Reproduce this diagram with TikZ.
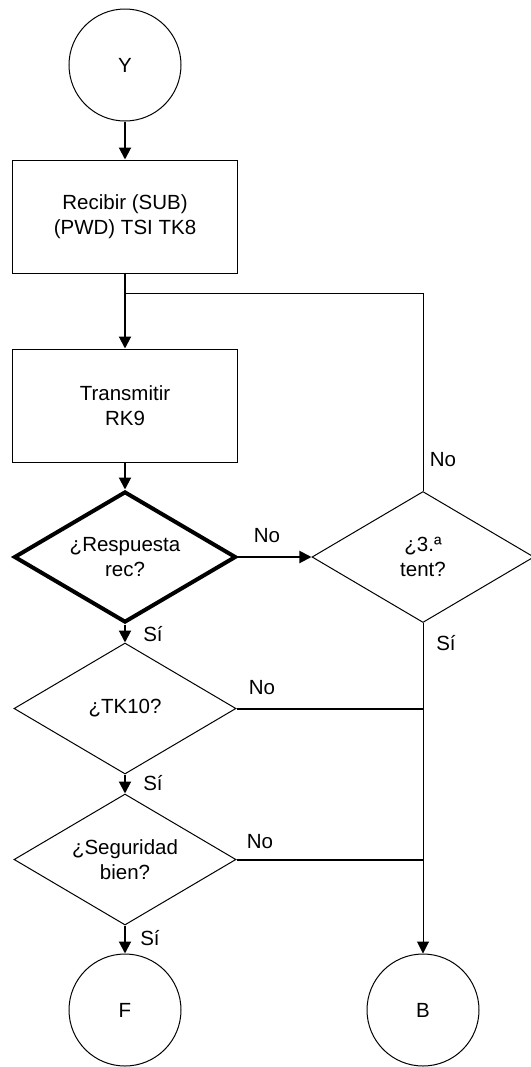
\documentclass[tikz,border=0pt]{standalone}
\usepackage{fontspec}
\setmainfont{Liberation Sans}
\usetikzlibrary{shapes.geometric,arrows.meta,calc}
\begin{document}
\begin{tikzpicture}[x=1bp,y=-1bp,
  every node/.style={font=\fontsize{20.5bp}{24.6bp}\selectfont, align=center},
  term/.style={circle, draw, line width=1bp, minimum size=112bp, inner sep=0pt},
  procbox/.style={rectangle, draw, line width=1bp, minimum width=224bp, minimum height=113bp, inner sep=0pt},
  decision/.style={diamond, draw, line width=1bp, aspect=1.7, minimum width=222bp, minimum height=131bp, inner sep=0pt},
  thickdec/.style={decision, line width=4bp},
  flow/.style={line width=2bp, -{Triangle[length=12bp,width=12bp]}},
  thinflow/.style={line width=1bp, -{Triangle[length=12bp,width=12bp]}},
  plain/.style={line width=1bp},
  plainthick/.style={line width=2bp},
  lbl/.style={inner sep=0pt}
]
\useasboundingbox (0,0) rectangle (531,1067);
\node[term] (Y) at (125,65) {Y};
\node[procbox] (R1) at (125,216.5) {Recibir (SUB)\\(PWD) TSI TK8};
\node[procbox] (T) at (125,405.5) {Transmitir\\RK9};
\node[thickdec] (D1) at (125,557) {¿Respuesta\\rec?};
\node[decision] (D2) at (423,557) {¿3.ª\\tent?};
\node[decision] (D3) at (125,708.5) {¿TK10?};
\node[decision] (D4) at (125,859.5) {¿Seguridad\\bien?};
\node[term] (F) at (125,1010) {F};
\node[term] (B) at (423,1010) {B};
\coordinate (J1) at (125,293);

\draw[flow] (Y) -- (R1);
\draw[flow] (R1) -- (T);
\draw[plain] (D2.north) |- (J1);
\draw[flow] (T) -- (D1);
\draw[flow] (D1) -- (D2);
\draw[flow] (D1) -- (D3);
\draw[flow] (D3) -- (D4);
\draw[flow] (D4) -- (F);
\draw[thinflow] (D2.south) -- (B);
\draw[plainthick] (D3.east) -- (D3.east -| D2.south);
\draw[plainthick] (D4.east) -- (D4.east -| D2.south);

\node[lbl] (n1) at (267,536) {No};
\node[lbl] (n2) at (443,460) {No};
\node[lbl] (s2) at (446,643) {Sí};
\node[lbl] (s1) at (153,634) {Sí};
\node[lbl] (n3) at (262,688) {No};
\node[lbl] (s3) at (153,783) {Sí};
\node[lbl] (n4) at (260,842) {No};
\node[lbl] (s4) at (150,938) {Sí};
\end{tikzpicture}
\end{document}
